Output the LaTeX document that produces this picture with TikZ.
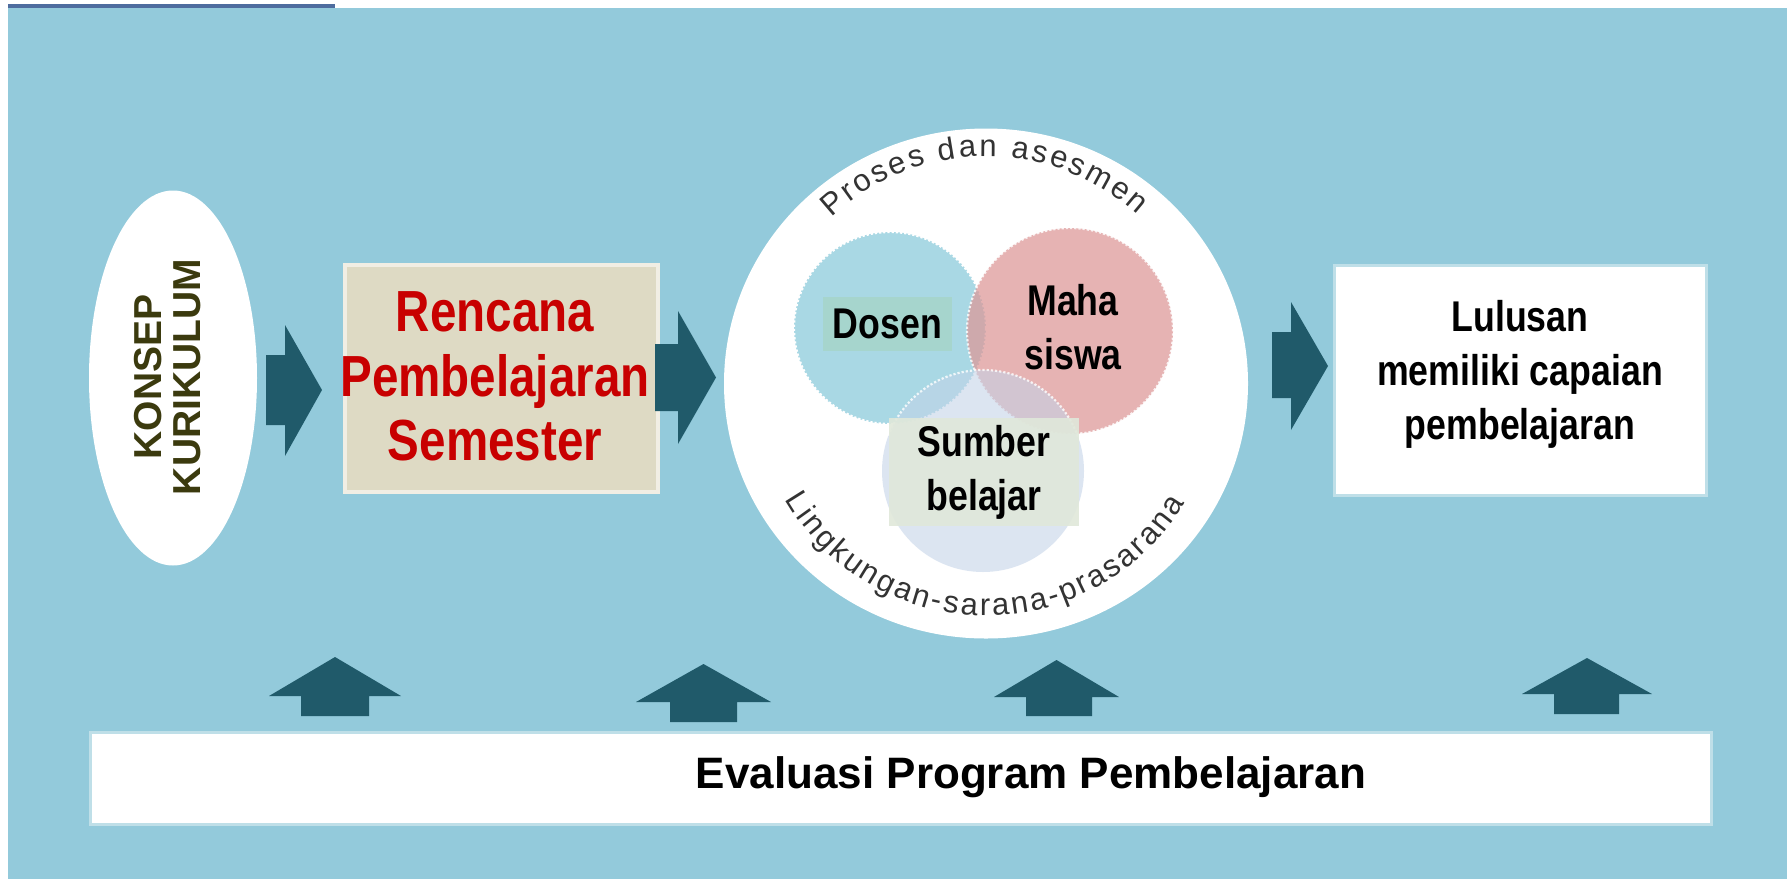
\documentclass[tikz,border=0pt]{standalone}
\usepackage{fontspec}
\setmainfont{Liberation Sans}
\newfontfamily\condf[FakeStretch=0.83]{Liberation Sans}
\newfontfamily\rpsf[FakeStretch=0.82]{Liberation Sans}
\usetikzlibrary{decorations.text,calc}
\definecolor{bgc}{HTML}{93CADB}
\definecolor{arrowc}{HTML}{205A6A}
\definecolor{topline}{HTML}{4E6C9E}
\definecolor{beige}{HTML}{DEDAC4}
\definecolor{beigeborder}{HTML}{F1EEE4}
\definecolor{redt}{HTML}{C80000}
\definecolor{olive}{HTML}{3B3A0E}
\definecolor{dosenfill}{HTML}{A9D8E4}
\definecolor{dosenlab}{HTML}{A6D5CD}
\definecolor{mahafill}{HTML}{DD9898}
\definecolor{sumberfill}{HTML}{C3D3E8}
\definecolor{sumberlab}{HTML}{E0E8DA}
\definecolor{arctext}{HTML}{333333}
\definecolor{boxborder}{HTML}{BFDFE8}
\newcommand{\arcfont}{\fontsize{31}{31}\selectfont\color{arctext}}
\begin{document}
\begin{tikzpicture}[x=1pt,y=1pt,
  blockarrow/.style={fill=arrowc},
  txt/.style={inner sep=0pt, align=center},
  circlabel/.style={txt, font=\condf\bfseries\fontsize{43}{54}\selectfont, text=black},
  venn/.style={draw=white, dotted, line width=2.2pt}]
\useasboundingbox (0,0) rectangle (1791,-879);
\fill[white] (0,0) rectangle (1791,-879);
\fill[bgc] (8,-8) rectangle (1787,-879);
\fill[topline] (8,-4) rectangle (335,-8);

% left ellipse
\fill[white] (173,-378) ellipse [x radius=84, y radius=187.5];
\node (konsep) [txt, rotate=90, font=\bfseries\fontsize{39}{39}\selectfont, text=olive] at (168,-377) {KONSEP\\KURIKULUM};

% RPS box
\node (rps) [fill=beige, draw=beigeborder, line width=4pt, minimum width=313, minimum height=227, inner sep=0pt] at (501.5,-378.5) {};
\node (rpstext) [txt, font=\rpsf\bfseries\fontsize{58}{64.5}\selectfont, text=redt] at (495,-376.5) {Rencana\\Pembelajaran\\Semester};

% horizontal block arrows
\fill[blockarrow] (266,-355) -- (285,-355) -- (285,-325) -- (322,-390) -- (285,-456) -- (285,-425) -- (266,-425) -- cycle;
\fill[blockarrow] (655,-344) -- (678,-344) -- (678,-311) -- (716,-377.5) -- (678,-444) -- (678,-411) -- (655,-411) -- cycle;
\fill[blockarrow] (1272,-332) -- (1291,-332) -- (1291,-302) -- (1328,-366) -- (1291,-430) -- (1291,-398) -- (1272,-398) -- cycle;

% big circle
\coordinate (C) at (986,-383.5);
\fill[white] (C) ellipse [x radius=262, y radius=255];

% venn circles
\fill[dosenfill] (890,-328) circle [radius=96];
\draw[venn] (890,-328) circle [radius=96];
\fill[mahafill, opacity=0.73] (1070,-331) circle [radius=103];
\draw[venn, opacity=0.8] (1070,-331) circle [radius=103];
\fill[sumberfill, opacity=0.57] (983,-471) circle [radius=101];
\draw[venn, opacity=0.8] (983,-471) ++(20:101) arc[start angle=20, end angle=160, radius=101];

\node (dosen) [circlabel, fill=dosenlab, minimum width=129, minimum height=54] at (887.5,-324) {Dosen};
\node (maha) [circlabel] at (1073,-327.5) {Maha\\siswa};
\node (sumber) [circlabel, fill=sumberlab, fill opacity=0.9, text opacity=1, minimum width=190, minimum height=108] at (984,-472) {Sumber\\belajar};

% curved texts
\path[decorate, decoration={text along path, text={|\arcfont|Proses dan asesmen}, text align={fit to path}}]
  ($(C)+(133:227)$) arc[start angle=133, end angle=48, radius=227];
\path[decorate, decoration={text along path, text={|\arcfont|Lingkungan-sarana-prasarana}, text align={fit to path}}]
  ($(C)+(210:232)$) arc[start angle=210, end angle=329, radius=232];

% Lulusan box
\node (lulusan) [fill=white, draw=boxborder, line width=3pt, minimum width=372, minimum height=230, inner sep=0pt] at (1520.5,-380.5) {};
\node (lulusantext) [circlabel] at (1520,-374.5) {Lulusan\\memiliki capaian\\pembelajaran};

% up arrows
\fill[blockarrow] (301,-716) -- (301,-696) -- (269,-696) -- (335,-657) -- (401,-696) -- (369,-696) -- (369,-716) -- cycle;
\fill[blockarrow] (670,-722) -- (670,-702) -- (636,-702) -- (703.5,-664) -- (771,-702) -- (737,-702) -- (737,-722) -- cycle;
\fill[blockarrow] (1026,-716) -- (1026,-697) -- (994,-697) -- (1056.5,-660) -- (1119,-697) -- (1092,-697) -- (1092,-716) -- cycle;
\fill[blockarrow] (1554,-714) -- (1554,-694) -- (1522,-694) -- (1587,-658) -- (1652,-694) -- (1619,-694) -- (1619,-714) -- cycle;

% bottom bar
\node (evaluasi) [fill=white, draw=boxborder, line width=3pt, minimum width=1621, minimum height=92, inner sep=0pt] at (901,-778.5) {};
\node (evaltext) [txt, font=\bfseries\fontsize{44}{44}\selectfont, text=black] at (1031,-777.5) {Evaluasi Program Pembelajaran};
\end{tikzpicture}
\end{document}
